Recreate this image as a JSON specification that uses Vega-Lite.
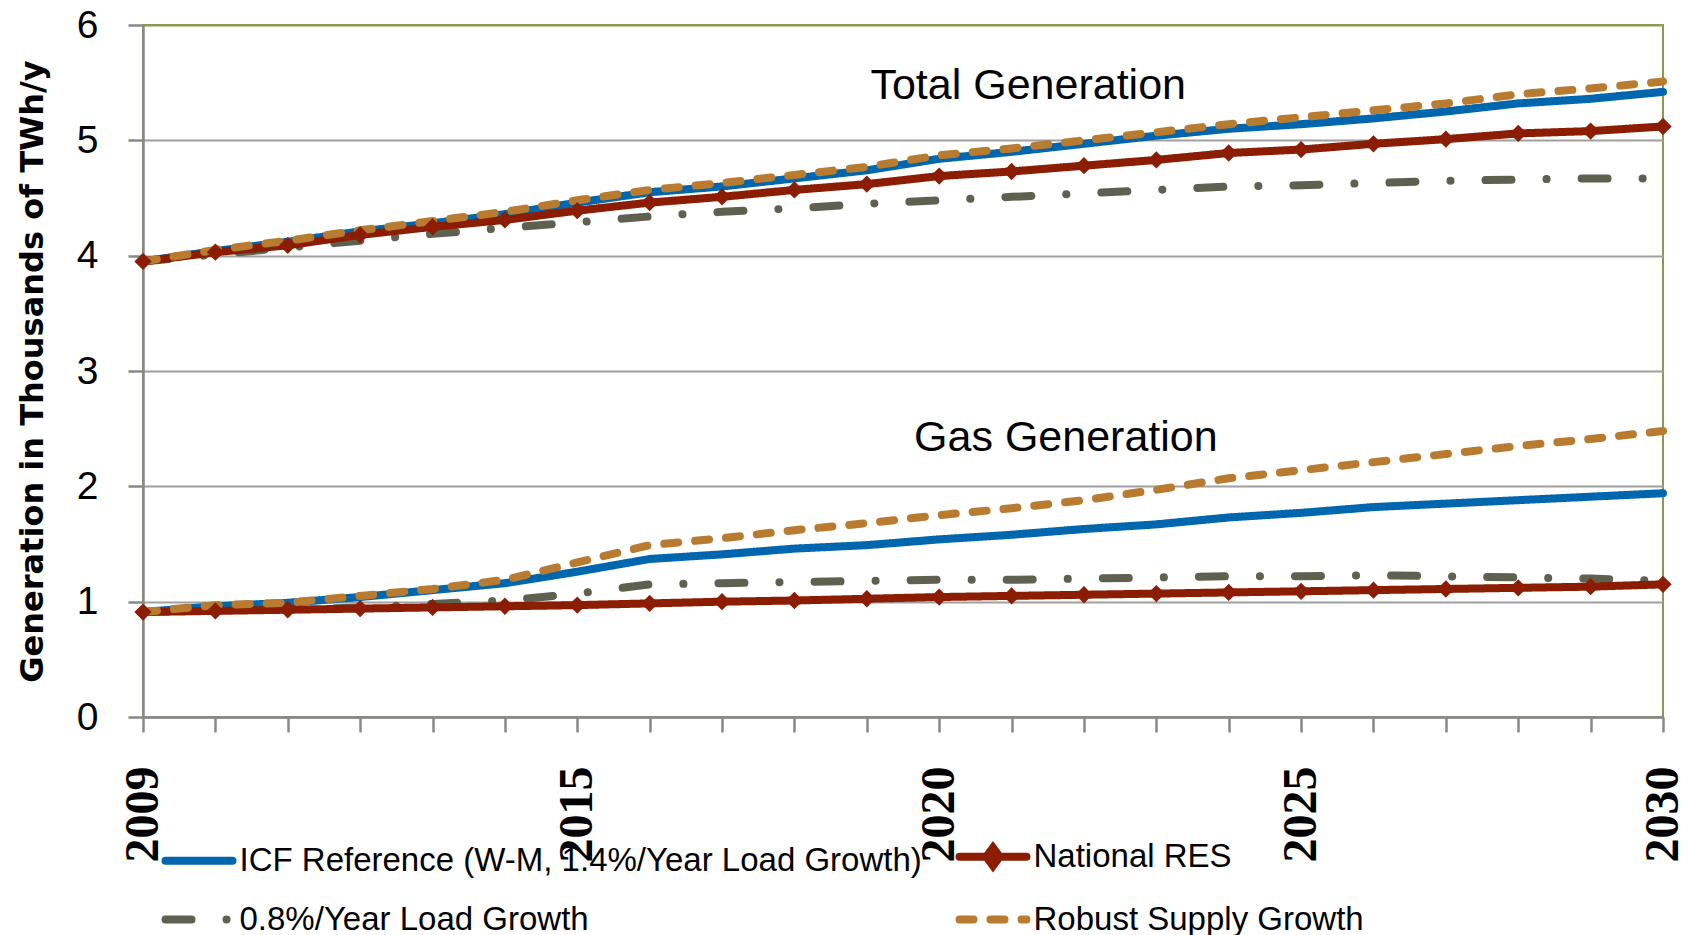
{
  "$schema": "https://vega.github.io/schema/vega-lite/v6.json",
  "width": 1520,
  "height": 692,
  "autosize": {"type": "none"},
  "padding": {"left": 143, "top": 25, "right": 25, "bottom": 218},
  "background": "white",
  "config": {"view": {"stroke": "#8c9a50", "strokeWidth": 2}},
  "datasets": {
    "gen": [
      {"year": 2009, "group": "Total", "ICF": 3.95, "RES": 3.95, "Low": 3.95, "Robust": 3.95},
      {"year": 2010, "group": "Total", "ICF": 4.04, "RES": 4.03, "Low": 4.01, "Robust": 4.05},
      {"year": 2011, "group": "Total", "ICF": 4.12, "RES": 4.09, "Low": 4.07, "Robust": 4.13},
      {"year": 2012, "group": "Total", "ICF": 4.21, "RES": 4.18, "Low": 4.13, "Robust": 4.22},
      {"year": 2013, "group": "Total", "ICF": 4.28, "RES": 4.25, "Low": 4.19, "Robust": 4.30},
      {"year": 2014, "group": "Total", "ICF": 4.36, "RES": 4.31, "Low": 4.24, "Robust": 4.38},
      {"year": 2015, "group": "Total", "ICF": 4.46, "RES": 4.39, "Low": 4.29, "Robust": 4.48},
      {"year": 2016, "group": "Total", "ICF": 4.55, "RES": 4.46, "Low": 4.34, "Robust": 4.57},
      {"year": 2017, "group": "Total", "ICF": 4.60, "RES": 4.51, "Low": 4.38, "Robust": 4.63},
      {"year": 2018, "group": "Total", "ICF": 4.67, "RES": 4.57, "Low": 4.41, "Robust": 4.70},
      {"year": 2019, "group": "Total", "ICF": 4.74, "RES": 4.62, "Low": 4.45, "Robust": 4.77},
      {"year": 2020, "group": "Total", "ICF": 4.84, "RES": 4.69, "Low": 4.48, "Robust": 4.87},
      {"year": 2021, "group": "Total", "ICF": 4.90, "RES": 4.73, "Low": 4.51, "Robust": 4.93},
      {"year": 2022, "group": "Total", "ICF": 4.97, "RES": 4.78, "Low": 4.54, "Robust": 5.00},
      {"year": 2023, "group": "Total", "ICF": 5.04, "RES": 4.83, "Low": 4.57, "Robust": 5.07},
      {"year": 2024, "group": "Total", "ICF": 5.10, "RES": 4.89, "Low": 4.60, "Robust": 5.14},
      {"year": 2025, "group": "Total", "ICF": 5.14, "RES": 4.92, "Low": 4.61, "Robust": 5.20},
      {"year": 2026, "group": "Total", "ICF": 5.19, "RES": 4.97, "Low": 4.63, "Robust": 5.26},
      {"year": 2027, "group": "Total", "ICF": 5.25, "RES": 5.01, "Low": 4.65, "Robust": 5.32},
      {"year": 2028, "group": "Total", "ICF": 5.32, "RES": 5.06, "Low": 4.66, "Robust": 5.40},
      {"year": 2029, "group": "Total", "ICF": 5.36, "RES": 5.08, "Low": 4.67, "Robust": 5.45},
      {"year": 2030, "group": "Total", "ICF": 5.42, "RES": 5.12, "Low": 4.67, "Robust": 5.51},
      {"year": 2009, "group": "Gas", "ICF": 0.91, "RES": 0.91, "Low": 0.91, "Robust": 0.91},
      {"year": 2010, "group": "Gas", "ICF": 0.96, "RES": 0.92, "Low": 0.93, "Robust": 0.97},
      {"year": 2011, "group": "Gas", "ICF": 0.99, "RES": 0.93, "Low": 0.93, "Robust": 0.99},
      {"year": 2012, "group": "Gas", "ICF": 1.04, "RES": 0.94, "Low": 0.95, "Robust": 1.05},
      {"year": 2013, "group": "Gas", "ICF": 1.10, "RES": 0.95, "Low": 0.98, "Robust": 1.11},
      {"year": 2014, "group": "Gas", "ICF": 1.16, "RES": 0.96, "Low": 1.01, "Robust": 1.19},
      {"year": 2015, "group": "Gas", "ICF": 1.26, "RES": 0.97, "Low": 1.07, "Robust": 1.34},
      {"year": 2016, "group": "Gas", "ICF": 1.37, "RES": 0.985, "Low": 1.15, "Robust": 1.49},
      {"year": 2017, "group": "Gas", "ICF": 1.41, "RES": 1.00, "Low": 1.16, "Robust": 1.55},
      {"year": 2018, "group": "Gas", "ICF": 1.46, "RES": 1.01, "Low": 1.17, "Robust": 1.62},
      {"year": 2019, "group": "Gas", "ICF": 1.49, "RES": 1.025, "Low": 1.18, "Robust": 1.68},
      {"year": 2020, "group": "Gas", "ICF": 1.54, "RES": 1.04, "Low": 1.19, "Robust": 1.75},
      {"year": 2021, "group": "Gas", "ICF": 1.58, "RES": 1.05, "Low": 1.19, "Robust": 1.81},
      {"year": 2022, "group": "Gas", "ICF": 1.63, "RES": 1.06, "Low": 1.20, "Robust": 1.88},
      {"year": 2023, "group": "Gas", "ICF": 1.67, "RES": 1.07, "Low": 1.21, "Robust": 1.97},
      {"year": 2024, "group": "Gas", "ICF": 1.73, "RES": 1.08, "Low": 1.22, "Robust": 2.07},
      {"year": 2025, "group": "Gas", "ICF": 1.77, "RES": 1.09, "Low": 1.22, "Robust": 2.14},
      {"year": 2026, "group": "Gas", "ICF": 1.82, "RES": 1.10, "Low": 1.23, "Robust": 2.21},
      {"year": 2027, "group": "Gas", "ICF": 1.85, "RES": 1.11, "Low": 1.22, "Robust": 2.28},
      {"year": 2028, "group": "Gas", "ICF": 1.88, "RES": 1.12, "Low": 1.21, "Robust": 2.35},
      {"year": 2029, "group": "Gas", "ICF": 1.91, "RES": 1.13, "Low": 1.20, "Robust": 2.41},
      {"year": 2030, "group": "Gas", "ICF": 1.94, "RES": 1.15, "Low": 1.18, "Robust": 2.48}
    ],
    "notes": [
      {"year": 2021.23, "value": 5.36, "label": "Total Generation"},
      {"year": 2021.75, "value": 2.31, "label": "Gas Generation"}
    ]
  },
  "layer": [
    {
      "data": {"name": "gen"},
      "transform": [{"fold": ["Low", "ICF", "RES", "Robust"], "as": ["series", "value"]}],
      "mark": {"type": "line", "strokeWidth": 8, "strokeCap": "round", "strokeJoin": "round"},
      "encoding": {
        "x": {
          "field": "year", "type": "quantitative",
          "scale": {"domain": [2009, 2030], "nice": false, "zero": false},
          "axis": {
            "title": null,
            "values": [2009, 2010, 2011, 2012, 2013, 2014, 2015, 2016, 2017, 2018, 2019, 2020, 2021, 2022, 2023, 2024, 2025, 2026, 2027, 2028, 2029, 2030],
            "format": "d",
            "labelExpr": "(datum.value == 2009 || datum.value == 2015 || datum.value == 2020 || datum.value == 2025 || datum.value == 2030) ? datum.label : ''",
            "labelAngle": 270,
            "labelFont": "Liberation Sans Narrow",
            "labelFontWeight": "bold",
            "labelFontSize": 48,
            "labelColor": "black",
            "labelPadding": 34,
            "labelOverlap": false,
            "labelFlush": false,
            "labelBound": false,
            "tickSize": 15,
            "tickWidth": 2.5,
            "tickColor": "#888888",
            "domainColor": "#888888",
            "domainWidth": 2.5,
            "grid": false
          }
        },
        "y": {
          "field": "value", "type": "quantitative",
          "scale": {"domain": [0, 6], "nice": false},
          "axis": {
            "values": [0, 1, 2, 3, 4, 5, 6],
            "format": "d",
            "labelFont": "Liberation Sans",
            "labelFontSize": 39,
            "labelColor": "black",
            "labelPadding": 30,
            "tickSize": 15,
            "tickWidth": 2.5,
            "tickColor": "#888888",
            "domainColor": "#888888",
            "domainWidth": 2.5,
            "grid": true,
            "gridColor": {"condition": {"test": "datum.value === 6", "value": "#8c9a50"}, "value": "#a0a0a0"},
            "gridWidth": 2,
            "title": "Generation in Thousands of TWh/y",
            "titleFont": "DejaVu Sans",
            "titleFontWeight": "bold",
            "titleFontSize": 32,
            "titleColor": "black",
            "titleX": -111,
            "titleY": 346,
            "titleAngle": 270,
            "titleAlign": "center",
            "titleBaseline": "middle"
          }
        },
        "color": {
          "field": "series", "type": "nominal",
          "scale": {"domain": ["ICF", "RES", "Low", "Robust"], "range": ["#0066ad", "#8b1d02", "#5f6150", "#b87b30"]},
          "legend": {
            "title": null,
            "orient": "none",
            "legendX": 18.5,
            "legendY": 794,
            "direction": "horizontal",
            "columns": 2,
            "padding": 0,
            "symbolType": "stroke",
            "symbolSize": 4489,
            "symbolStrokeWidth": 8,
            "labelFont": "Liberation Sans",
            "labelFontSize": 33,
            "labelColor": "black",
            "labelOffset": 3,
            "labelLimit": 0,
            "columnPadding": 21,
            "rowPadding": -3,
            "labelExpr": "datum.label == 'ICF' ? 'ICF Reference (W-M, 1.4%/Year Load Growth)' : datum.label == 'RES' ? 'National RES' : datum.label == 'Low' ? '0.8%/Year Load Growth' : 'Robust Supply Growth'",
            "encode": {
              "symbols": {
                "update": {
                  "shape": [{"test": "datum.value === 'RES'", "value": "M-1,0L1,0M0,-0.27L0.2,0L0,0.27L-0.2,0Z"}, {"value": "stroke"}],
                  "fill": [{"test": "datum.value === 'RES'", "value": "#8b1d02"}, {"value": "transparent"}],
                  "strokeDash": [{"test": "datum.value === 'Robust'", "value": [17, 17]}, {"test": "datum.value === 'Low'", "value": [26, 35, 0.1, 35]}, {"value": [1, 0]}],
                  "strokeCap": {"value": "round"}
                }
              }
            }
          }
        },
        "strokeDash": {
          "field": "series", "type": "nominal",
          "scale": {"domain": ["ICF", "RES", "Low", "Robust"], "range": [[1, 0], [1, 0], [26, 35, 0.1, 35], [14, 17]]},
          "legend": {
            "title": null,
            "orient": "none",
            "legendX": 18.5,
            "legendY": 794,
            "direction": "horizontal",
            "columns": 2,
            "padding": 0,
            "symbolType": "stroke",
            "symbolSize": 4489,
            "symbolStrokeWidth": 8,
            "labelFont": "Liberation Sans",
            "labelFontSize": 33,
            "labelColor": "black",
            "labelOffset": 3,
            "labelLimit": 0,
            "columnPadding": 21,
            "rowPadding": -3,
            "labelExpr": "datum.label == 'ICF' ? 'ICF Reference (W-M, 1.4%/Year Load Growth)' : datum.label == 'RES' ? 'National RES' : datum.label == 'Low' ? '0.8%/Year Load Growth' : 'Robust Supply Growth'",
            "encode": {
              "symbols": {
                "update": {
                  "shape": [{"test": "datum.value === 'RES'", "value": "M-1,0L1,0M0,-0.27L0.2,0L0,0.27L-0.2,0Z"}, {"value": "stroke"}],
                  "fill": [{"test": "datum.value === 'RES'", "value": "#8b1d02"}, {"value": "transparent"}],
                  "strokeDash": [{"test": "datum.value === 'Robust'", "value": [17, 17]}, {"test": "datum.value === 'Low'", "value": [26, 35, 0.1, 35]}, {"value": [1, 0]}],
                  "strokeCap": {"value": "round"}
                }
              }
            }
          }
        },
        "detail": {"field": "group"}
      }
    },
    {
      "data": {"name": "gen"},
      "transform": [{"fold": ["RES"], "as": ["series", "value"]}],
      "mark": {"type": "point", "shape": "diamond", "filled": true, "size": 300, "opacity": 1, "color": "#8b1d02", "strokeWidth": 0},
      "encoding": {
        "x": {"field": "year", "type": "quantitative"},
        "y": {"field": "value", "type": "quantitative"}
      }
    },
    {
      "data": {"name": "notes"},
      "mark": {"type": "text", "font": "Liberation Sans", "fontSize": 43, "align": "center", "baseline": "alphabetic", "color": "black"},
      "encoding": {
        "x": {"field": "year", "type": "quantitative"},
        "y": {"field": "value", "type": "quantitative"},
        "text": {"field": "label"}
      }
    }
  ]
}
